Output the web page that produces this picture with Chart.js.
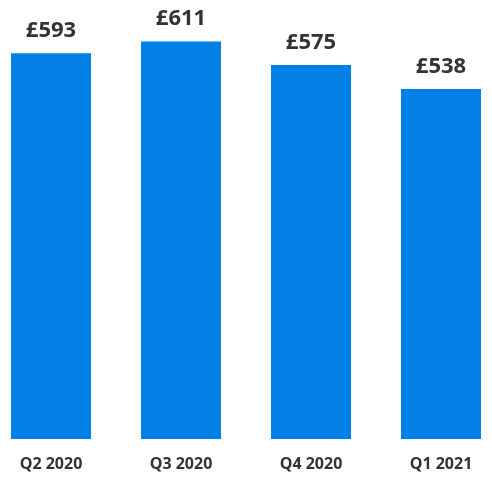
<!DOCTYPE html>
<html>
<head>
<meta charset="utf-8">
<script src="https://cdn.jsdelivr.net/npm/chart.js@4"></script>
<style>
html,body{margin:0;padding:0;background:#fff;overflow:hidden;width:492px;height:492px;}
#wrap{position:absolute;left:-14px;top:0;width:520px;height:492px;}
</style>
</head>
<body>
<div id="wrap"><canvas id="c" width="520" height="492"></canvas></div>
<script>
const categories = ['Q2 2020', 'Q3 2020', 'Q4 2020', 'Q1 2021'];
const values = [593, 611, 575, 538];
const valueLabels = ['£593', '£611', '£575', '£538'];

const labelPlugin = {
  id: 'labels',
  afterDatasetsDraw(chart) {
    const ctx = chart.ctx;
    const meta = chart.getDatasetMeta(0);
    const xScale = chart.scales.x;
    ctx.save();
    ctx.fillStyle = '#333333';
    ctx.textAlign = 'center';
    ctx.textBaseline = 'alphabetic';
    ctx.font = 'bold 22px "Open Sans"';
    meta.data.forEach((bar, i) => {
      ctx.fillText(valueLabels[i], bar.x, bar.y - 16.5);
    });
    ctx.font = 'bold 16px "Open Sans"';
    categories.forEach((c, i) => {
      ctx.fillText(c, xScale.getPixelForValue(i), chart.chartArea.bottom + 30);
    });
    ctx.restore();
  }
};

new Chart(document.getElementById('c'), {
  type: 'bar',
  data: {
    labels: categories,
    datasets: [{
      data: values,
      backgroundColor: '#0280E5',
      borderWidth: 0,
      categoryPercentage: 1,
      barPercentage: 80/130
    }]
  },
  options: {
    responsive: false,
    devicePixelRatio: 1,
    animation: false,
    layout: { padding: { top: 0, bottom: 53, left: 0, right: 0 } },
    plugins: { legend: { display: false }, tooltip: { enabled: false } },
    scales: {
      x: { display: false },
      y: { display: false, min: 0, max: 675 }
    }
  },
  plugins: [labelPlugin]
});
</script>
</body>
</html>
